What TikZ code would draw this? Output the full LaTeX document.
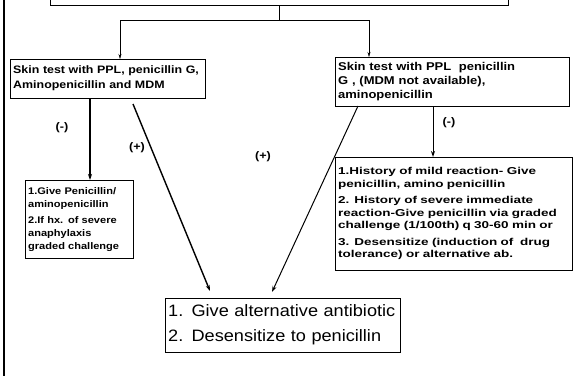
\documentclass[tikz,border=0pt]{standalone}
\usepackage{fontspec}
\setmainfont{Liberation Sans}
\newfontfamily\scanfont[FakeStretch=1.15]{Liberation Sans}
\newfontfamily\heavyfont[FakeStretch=1.35]{Liberation Sans}
\newfontfamily\bigfont[FakeStretch=1.1]{Liberation Sans}
\usetikzlibrary{arrows.meta}

\tikzset{
  box/.style={draw, thin, anchor=north west, align=left, inner sep=3pt},
  arr/.style={line width=1.4pt, -{Stealth[length=6pt,width=4pt]}},
  sign/.style={font=\scanfont\bfseries\fontsize{11}{13}\selectfont},
}

\begin{document}
\begin{tikzpicture}[x=1pt,y=-1pt]
\useasboundingbox (0,0) rectangle (578,376);
\clip (0,0) rectangle (578,376);

\draw[line width=2.5pt] (4,0) -- (4,376); % left rule

% top box (cut off)
\node[draw, thin, minimum width=458pt, minimum height=30pt] (hist) at (279,-10) {};

% boxes
\node[box, text width=189pt, minimum height=39pt, font=\scanfont\bfseries\fontsize{10.8}{15}\selectfont] (skinA) at (10,59)
  {Skin test with PPL, penicillin G,\\Aminopenicillin and MDM};
\node[box, text width=228pt, minimum height=49pt, font=\scanfont\bfseries\fontsize{11.3}{14}\selectfont] (skinB) at (335,57)
  {Skin test with PPL\ \ penicillin\\G , (MDM not available),\\aminopenicillin};
\node[box, text width=102pt, minimum height=78pt, font=\scanfont\bfseries\fontsize{9.6}{13}\selectfont] (give) at (25,180)
  {1.Give Penicillin/\\aminopenicillin\\[3pt]2.If hx. of severe\\anaphylaxis\\graded challenge};
\node[box, text width=231pt, minimum height=113pt, font=\heavyfont\bfseries\fontsize{10}{12.5}\selectfont] (hist2) at (335,157)
  {1.History of mild reaction- Give\\penicillin, amino penicillin\\[4pt]
   2. History of severe immediate\\reaction-Give penicillin via graded\\challenge (1/100th) q 30-60 min or\\[4pt]
   3. Desensitize (induction of\ \ drug\\tolerance) or alternative ab.};
\node[box, text width=229pt, minimum height=54pt, font=\bigfont\fontsize{16.5}{25}\selectfont] (alt) at (165,298)
  {1. Give alternative antibiotic\\2. Desensitize to penicillin};

% fork from top box
\coordinate (fork) at (279,20);
\coordinate (forkL) at (120,20);
\coordinate (forkR) at (369,20);
\draw[thin] (hist.south -| fork) -- (fork);
\draw[thin] (forkL) -- (forkR);
\draw[thin, -{Stealth[length=5pt,width=3pt]}] (forkL) -- (forkL |- skinA.north);
\draw[thin, -{Stealth[length=5pt,width=3pt]}] (forkR) -- (forkR |- skinB.north);

% skin test A
\coordinate (aDown) at (90,98);
\draw[arr] (aDown) -- (aDown |- give.north);
\coordinate (aDiag) at (133,104);
\coordinate (altL) at (210,291);
\draw[arr] (aDiag) -- (altL);
\node[sign] (negA) at (62,128) {(-)};
\node[sign] (posA) at (137,148) {(+)};

% skin test B
\coordinate (bDown) at (433,106);
\draw[arr, line width=1pt] (bDown) -- (bDown |- hist2.north);
\coordinate (bDiag) at (358,106);
\coordinate (altR) at (272,292);
\draw[arr, line width=1pt] (bDiag) -- (altR);
\node[sign] (negB) at (449,123) {(-)};
\node[sign] (posB) at (263,157) {(+)};
\end{tikzpicture}
\end{document}
